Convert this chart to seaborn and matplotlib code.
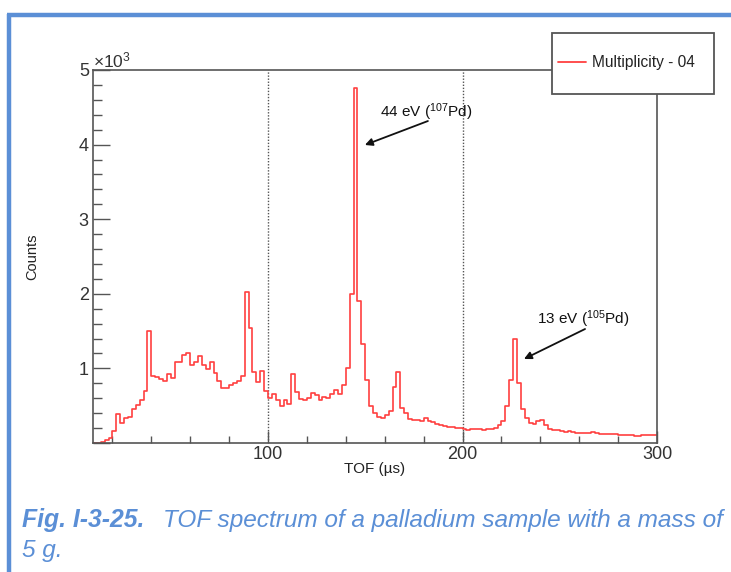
import numpy as np
import pandas as pd
import matplotlib
matplotlib.use("Agg")
import matplotlib.pyplot as plt
from matplotlib.lines import Line2D
from matplotlib.patches import Rectangle
from matplotlib.ticker import MultipleLocator, FuncFormatter
import seaborn as sns

# ---------------- data ----------------
bin_start_us = 10
bin_width_us = 2
counts = [
    5, 5, 20, 40, 70, 160, 390, 270, 330, 350,            # 10-28
    450, 510, 580, 700, 1500, 900, 890, 855, 830, 925,     # 30-48
    870, 1080, 1090, 1180, 1200, 1045, 1090, 1160, 1045, 990,  # 50-68
    1090, 935, 830, 740, 740, 780, 800, 825, 900, 2020,    # 70-88
    1540, 955, 820, 960, 700, 600, 660, 570, 490, 570,     # 90-108
    520, 925, 680, 595, 580, 600, 665, 640, 575, 615,      # 110-128
    600, 660, 710, 660, 775, 1000, 2000, 4755, 1900, 1330, # 130-148
    850, 500, 400, 355, 330, 375, 430, 750, 956, 470,      # 150-168
    400, 320, 310, 310, 300, 335, 290, 280, 255, 245,      # 170-188
    230, 215, 210, 200, 195, 190, 180, 185, 190, 185,      # 190-208
    180, 185, 190, 200, 240, 300, 500, 850, 1400, 800,     # 210-228
    450, 340, 270, 260, 300, 310, 240, 190, 175, 170,      # 230-248
    155, 150, 155, 150, 135, 130, 135, 130, 150, 140,      # 250-268
    120, 125, 120, 118, 120, 110, 108, 105, 110, 100,      # 270-288
    90, 110, 105, 108, 110,                                # 290-298
]
series_label = "Multiplicity - 04"
x_label = "TOF (\u00b5s)"
y_label = "Counts"
x_range = (10, 300)
y_range = (0, 5000)
ref_lines_x = [100, 200]
annotations = [
    # text, text position (x, y), arrow head (x, y), arrow tail (x, y)
    (r"44 eV ($^{107}$Pd)", (157.6, 4370), (149.8, 3995), (182.2, 4316)),
    (r"13 eV ($^{105}$Pd)", (238.3, 1595), (231.6, 1126), (263.0, 1528)),
]
caption_bold = "Fig. I-3-25."
caption_rest = "TOF spectrum of a palladium sample with a mass of"
caption_line2 = "5 g."

edges = [bin_start_us + bin_width_us * i for i in range(len(counts) + 1)]
centers = [e + bin_width_us / 2 for e in edges[:-1]]
df = pd.DataFrame({"tof": centers, "counts": counts})

# ---------------- style ----------------
sns.set_theme(style="white")
plt.rcParams["font.family"] = ["Liberation Sans", "DejaVu Sans"]
plt.rcParams["mathtext.fontset"] = "custom"
plt.rcParams["mathtext.rm"] = "Liberation Sans"
plt.rcParams["mathtext.it"] = "Liberation Sans:italic"
plt.rcParams["mathtext.bf"] = "Liberation Sans:bold"

W, H = 731, 572
fig = plt.figure(figsize=(W / 100, H / 100), dpi=100)
fig.patch.set_facecolor("white")
ax = fig.add_axes([93 / W, 1 - 443 / H, (657 - 93) / W, (443 - 70) / H])

red = "#ff4040"
sns.histplot(data=df, x="tof", weights="counts", bins=edges, element="step",
             fill=False, color=red, linewidth=1.2, ax=ax)

ax.set_xlim(*x_range)
ax.set_ylim(*y_range)

for xv in ref_lines_x:
    ax.axvline(xv, color="#555555", lw=1.0, ls=(0, (1, 1.2)), zorder=1)

# ticks
ax.minorticks_on()
ax.xaxis.set_major_locator(MultipleLocator(100))
ax.xaxis.set_minor_locator(MultipleLocator(20))
ax.yaxis.set_major_locator(MultipleLocator(1000))
ax.yaxis.set_minor_locator(MultipleLocator(200))
ax.yaxis.set_major_formatter(FuncFormatter(lambda v, p: "" if v == 0 else f"{v/1000:g}"))
ax.tick_params(axis="both", which="both", direction="in", colors="#555555",
               labelcolor="#333333", labelsize=13, top=False, right=False,
               bottom=True, left=True)
ax.tick_params(axis="y", which="major", length=12, width=1.0, pad=3)
ax.tick_params(axis="y", which="minor", length=6.5, width=1.0)
ax.tick_params(axis="x", which="major", length=9, width=1.0, pad=2)
ax.tick_params(axis="x", which="minor", length=5, width=1.0)
for s in ax.spines.values():
    s.set_color("#555555")
    s.set_linewidth(1.2)

ax.set_xlabel(x_label, fontsize=11, color="#222222", va="top")
ax.set_ylabel(y_label, fontsize=10.5, color="#222222")
ax.yaxis.set_label_coords(-0.096, 0.5)
ax.xaxis.set_label_coords(0.5, -0.051)

ax.text(0.0, 1.008, r"$\times10^{3}$", transform=ax.transAxes, ha="left",
        va="baseline", fontsize=12.5, color="#333333")

for txt, tpos, head, tail in annotations:
    ax.text(tpos[0], tpos[1], txt, fontsize=11, color="#111111", ha="left", va="baseline")
    ax.annotate("", xy=head, xytext=tail,
                arrowprops=dict(arrowstyle="-|>", color="#111111", lw=1.3,
                                mutation_scale=11, shrinkA=0, shrinkB=0))

# legend box (figure level, covers the axes frame like the original)
fig.add_artist(Rectangle((552 / W, 1 - 94 / H), 162 / W, 61 / H,
                         transform=fig.transFigure, facecolor="white",
                         edgecolor="#555555", lw=1.3, zorder=5))
leg = fig.legend(handles=[Line2D([], [], color=red, lw=1.3)], labels=[series_label],
                 loc="center left", bbox_to_anchor=(558 / W, 1 - 63 / H),
                 bbox_transform=fig.transFigure, borderaxespad=0, borderpad=0,
                 frameon=False, fontsize=11.2, handlelength=1.8,
                 handletextpad=0.4, labelcolor="#222222")
leg.set_zorder(6)

# page decorations: blue frame
blue = "#5b8fd6"
fig.add_artist(Line2D([8.5 / W, 8.5 / W], [0, 1 - 14 / H], color=blue, lw=3.2,
                      transform=fig.transFigure, solid_capstyle="butt"))
fig.add_artist(Line2D([7 / W, 1], [1 - 14.5 / H, 1 - 14.5 / H], color=blue, lw=3.2,
                      transform=fig.transFigure, solid_capstyle="butt"))

# caption
fig.text(22 / W, 1 - 527 / H, caption_bold, fontsize=17.8, color=blue,
         fontweight="bold", fontstyle="italic", ha="left", va="baseline")
fig.text(163 / W, 1 - 527 / H, caption_rest, fontsize=17.6, color=blue,
         fontstyle="italic", ha="left", va="baseline")
fig.text(22 / W, 1 - 557 / H, caption_line2, fontsize=17.6, color=blue,
         fontstyle="italic", ha="left", va="baseline")

fig.savefig("out.png", dpi=100)
